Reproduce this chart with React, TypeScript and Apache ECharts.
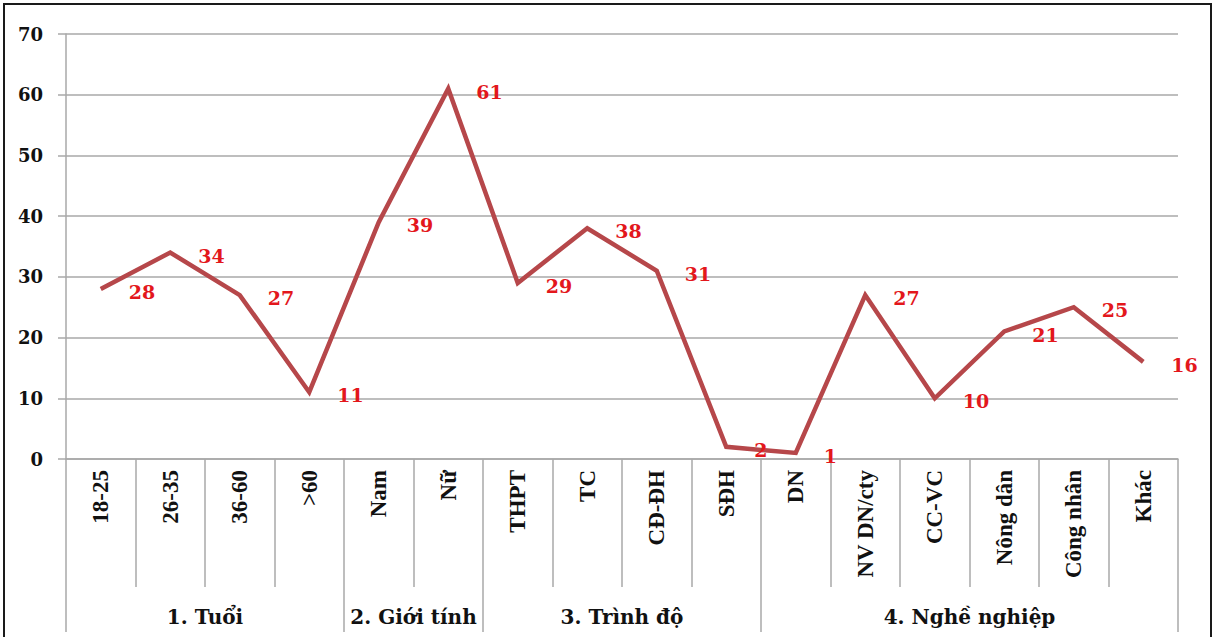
import React, { useEffect, useRef } from "react";
import * as echarts from "echarts";

// Survey breakdown: sub-category labels, their values, and the four groups
const categories = [
  "18-25", "26-35", "36-60", ">60",
  "Nam", "Nữ",
  "THPT", "TC", "CĐ-ĐH", "SĐH",
  "DN", "NV DN/cty", "CC-VC", "Nông dân", "Công nhân", "Khác",
];
const values = [28, 34, 27, 11, 39, 61, 29, 38, 31, 2, 1, 27, 10, 21, 25, 16];

const groupNames = ["1. Tuổi", "2. Giới tính", "3. Trình độ", "4. Nghề nghiệp"];
const groupSizes = [4, 2, 4, 6];

const yTicks = { min: 0, max: 70, step: 10 };

export default function App() {
  const ref = useRef<HTMLDivElement>(null);

  useEffect(() => {
    document.body.style.margin = "0";
    if (!ref.current) return;
    const chart = echarts.init(ref.current, undefined, { renderer: "svg" });

    // group boundaries and centres in category units
    const bounds: number[] = [0];
    groupSizes.forEach((n) => bounds.push(bounds[bounds.length - 1] + n));
    const centres = groupSizes.map((n, i) => bounds[i] + n / 2);
    const nameAt = (v: number) => {
      const idx = centres.findIndex((c) => Math.abs(c - v) < 1e-6);
      return idx >= 0 ? groupNames[idx] : "";
    };

    const grey = "#a8a8a8";
    const serifWide = "DejaVu Serif";
    const lineColor = "#b6474a";

    chart.setOption({
      animation: false,
      backgroundColor: "#ffffff",
      grid: { left: 66, right: 35, top: 34, bottom: 178, containLabel: false },
      xAxis: [
        {
          type: "category",
          data: categories,
          boundaryGap: true,
          axisLine: { show: true, lineStyle: { color: grey, width: 1.5 } },
          axisTick: {
            show: true,
            interval: 0,
            length: 128,
            lineStyle: { color: grey, width: 1.5 },
          },
          axisLabel: {
            interval: 0,
            rotate: 90,
            margin: 11,
            color: "#111",
            fontFamily: "Liberation Serif",
            fontWeight: "bold",
            fontSize: 23,
          },
          splitLine: { show: false },
        },
        {
          type: "value",
          position: "bottom",
          offset: 128,
          min: 0,
          max: categories.length,
          axisLine: { show: false },
          splitLine: { show: false },
          axisTick: {
            show: true,
            length: 45,
            customValues: bounds,
            lineStyle: { color: grey, width: 1.5 },
          },
          axisLabel: {
            show: true,
            customValues: centres,
            formatter: (v: number) => nameAt(v),
            margin: 20,
            color: "#111",
            fontFamily: serifWide,
            fontWeight: "bold",
            fontSize: 20,
          },
        },
      ],
      yAxis: {
        type: "value",
        min: yTicks.min,
        max: yTicks.max,
        interval: yTicks.step,
        axisLine: { show: true, lineStyle: { color: grey, width: 1.5 } },
        axisTick: { show: true, length: 8, lineStyle: { color: grey, width: 1.5 } },
        splitLine: { show: true, lineStyle: { color: grey, width: 1.5 } },
        axisLabel: {
          margin: 23,
          color: "#111",
          fontFamily: serifWide,
          fontWeight: "bold",
          fontSize: 18,
        },
      },
      series: [
        {
          type: "line",
          xAxisIndex: 0,
          data: values,
          showSymbol: true,
          symbol: "circle",
          symbolSize: 0,
          lineStyle: { color: lineColor, width: 4.5, join: "miter" },
          itemStyle: { color: lineColor },
          label: {
            show: true,
            position: "right",
            distance: 28,
            offset: [0, 3],
            color: "#e3171c",
            fontFamily: serifWide,
            fontWeight: "bold",
            fontSize: 19,
          },
        },
      ],
      graphic: [
        {
          type: "rect",
          shape: { x: 4, y: 4, width: 1207, height: 640 },
          style: { fill: "none", stroke: "#1a1a1a", lineWidth: 2 },
          silent: true,
        },
      ],
    });

    return () => chart.dispose();
  }, []);

  return <div ref={ref} style={{ width: 1213, height: 637 }} />;
}
